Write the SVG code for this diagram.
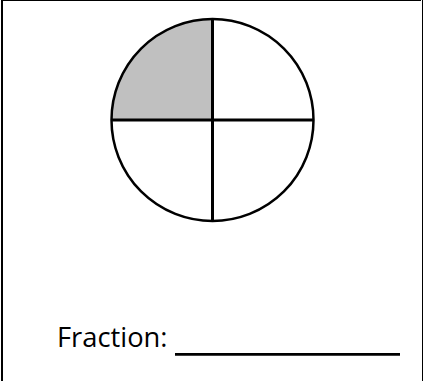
<svg xmlns="http://www.w3.org/2000/svg" width="423" height="381" viewBox="0 0 423 381">
<style>
.stroke{stroke:#000;fill:none}
.lbl{font-family:"Open Sans","Noto Sans","Liberation Sans",sans-serif;font-size:27px;fill:#000}
</style>
<rect width="423" height="381" fill="#fff"/>
<g id="frame">
<line class="stroke" x1="2" y1="0" x2="2" y2="381" stroke-width="2"/>
<line class="stroke" x1="1" y1="0.5" x2="421" y2="0.5" stroke-width="1"/>
<line class="stroke" x1="422.5" y1="0" x2="422.5" y2="381" stroke-width="1"/>
</g>
<g id="circle">
<path d="M212.5,120 L111.5,120 A101,101 0 0 1 212.5,19 Z" fill="#c0c0c0"/>
<circle class="stroke" cx="212.5" cy="120" r="101" stroke-width="2.5"/>
<line class="stroke" x1="212.5" y1="19" x2="212.5" y2="221" stroke-width="3"/>
<line class="stroke" x1="111.5" y1="120" x2="313.5" y2="120" stroke-width="3"/>
</g>
<g id="label">
<text class="lbl" x="57" y="346.5" textLength="110.5" lengthAdjust="spacingAndGlyphs">Fraction:</text>
<line class="stroke" x1="175" y1="354.3" x2="400" y2="354.3" stroke-width="2.7"/>
</g>
</svg>
